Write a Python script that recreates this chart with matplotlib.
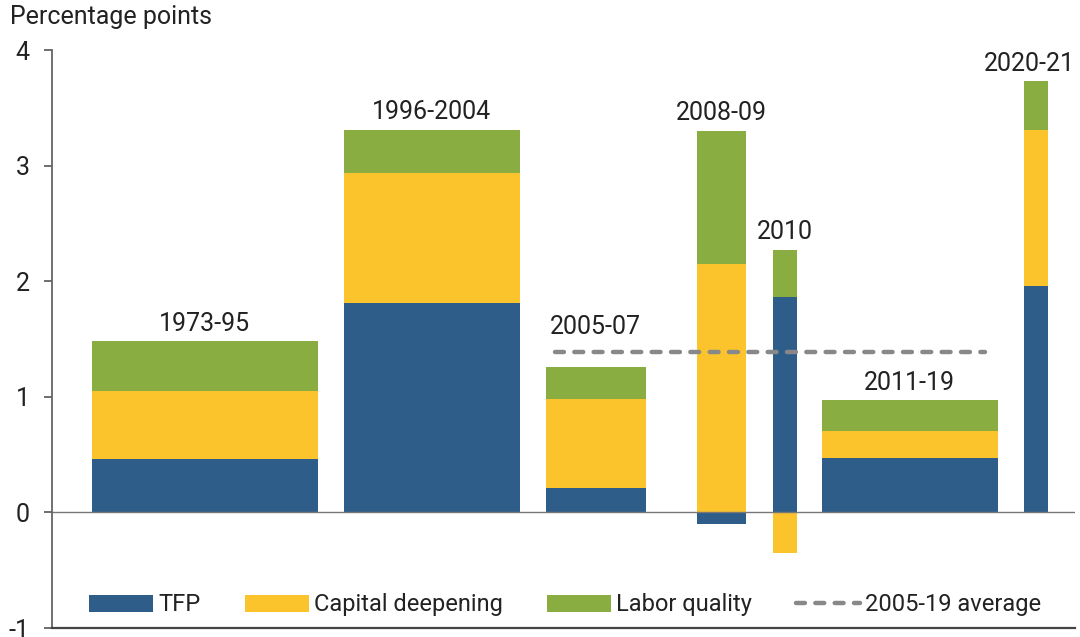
import numpy as np
import matplotlib
matplotlib.use('Agg')
import matplotlib.pyplot as plt

plt.rcParams['font.family'] = ['Roboto', 'DejaVu Sans']

# data (percentage points)
periods = ['1973-95', '1996-2004', '2005-07', '2008-09', '2010', '2011-19', '2020-21']
tfp = [0.46, 1.81, 0.21, -0.10, 1.86, 0.47, 1.96]
capital = [0.59, 1.13, 0.77, 2.15, -0.35, 0.23, 1.35]
labor = [0.43, 0.37, 0.28, 1.15, 0.41, 0.27, 0.42]
avg_2005_19 = 1.39

# layout (pixel-like x units)
lefts = [92, 344, 546, 697, 773, 822, 1024]
widths = [226, 176, 100, 49, 24, 176, 24]

c_tfp = '#2e5d8a'
c_cap = '#fbc42d'
c_lab = '#89ad40'
txt = '#222222'

fig = plt.figure(figsize=(10.8, 6.37), dpi=100)
ax = fig.add_axes([0.048, 0.0141, 0.947, 0.9074])

tfp = np.array(tfp)
capital = np.array(capital)
labor = np.array(labor)
lefts = np.array(lefts)
widths = np.array(widths)

# stack positives up from zero, negatives down from zero
pos_base = np.zeros(len(periods))
neg_base = np.zeros(len(periods))
handles = []
for vals, col, name in [(tfp, c_tfp, 'TFP'), (capital, c_cap, 'Capital deepening'),
                        (labor, c_lab, 'Labor quality')]:
    base = np.where(vals >= 0, pos_base, neg_base)
    h = ax.bar(lefts, vals, width=widths, bottom=base, align='edge', color=col,
               label=name, linewidth=0)
    handles.append(h)
    pos_base = pos_base + np.where(vals >= 0, vals, 0)
    neg_base = neg_base + np.where(vals < 0, vals, 0)
tops = pos_base

ln, = ax.plot([555, 985], [avg_2005_19, avg_2005_19], color='#888888', lw=3.2,
              linestyle=(0, (2.0, 2.35)), dash_capstyle='round', label='2005-19 average')
handles.append(ln)

ax.axhline(0, color='#777777', lw=1)

for i, p in enumerate(periods):
    y = tops[i]
    off = 4
    if p == '2005-07':
        y = avg_2005_19
        off = 9
    x = lefts[i] + widths[i] / 2
    ha = 'center'
    if i == len(periods) - 1:
        x = 1075
        ha = 'right'
    ax.annotate(p, (x, y), xytext=(0, off), textcoords='offset points',
                ha=ha, va='bottom', fontsize=18, color=txt, annotation_clip=False)

ax.set_xlim(52, 1075)
ax.set_ylim(-1, 4)
ax.set_yticks([-1, 0, 1, 2, 3, 4])
ax.set_yticklabels(['-1', '0', '1', '2', '3', '4'])
ax.tick_params(axis='y', direction='out', length=6, width=1.2, color='#555555',
               labelsize=18, labelcolor=txt, pad=10)
ax.set_xticks([])
for s in ['top', 'right']:
    ax.spines[s].set_visible(False)
ax.spines['left'].set_color('#666666')
ax.spines['left'].set_linewidth(1.3)
ax.spines['bottom'].set_color('#444444')
ax.spines['bottom'].set_linewidth(1.6)

fig.text(0.009, 0.992, 'Percentage points', ha='left', va='top', fontsize=18,
         color=txt)

leg = ax.legend(handles=handles, loc='center', bbox_to_anchor=(0.502, 0.04), ncol=4,
                frameon=False, fontsize=17, handlelength=2.7, handleheight=0.75,
                columnspacing=1.9, handletextpad=0.2, labelcolor=txt)

fig.savefig('out.png', dpi=100)
